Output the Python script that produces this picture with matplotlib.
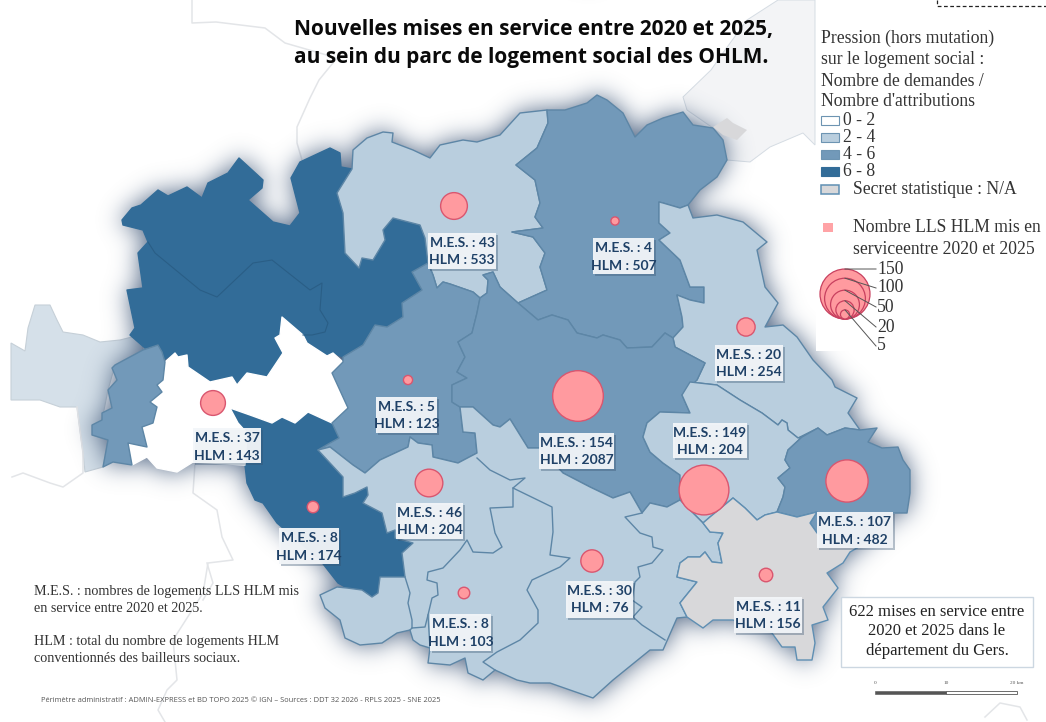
import numpy as np
import matplotlib
matplotlib.use("Agg")
import matplotlib.pyplot as plt
from matplotlib.patches import Polygon, Circle, Rectangle
from matplotlib.path import Path

# ---------- data ----------
mes = [43, 4, 20, 5, 154, 37, 149, 107, 46, 8, 30, 8, 11]
hlm = [533, 507, 254, 123, 2087, 143, 204, 482, 204, 174, 76, 103, 156]
legend_classes = ["0 - 2", "2 - 4", "4 - 6", "6 - 8"]
legend_sizes = [150, 100, 50, 20, 5]
title_lines = ["Nouvelles mises en service entre 2020 et 2025,",
               "au sein du parc de logement social des OHLM."]
legend_title = ["Pression (hors mutation)", "sur le logement social :",
                "Nombre de demandes /", "Nombre d'attributions"]
note_lines = ["M.E.S. : nombres de logements LLS HLM mis", "en service entre 2020 et 2025.",
              "HLM : total du nombre de logements HLM", "conventionnés des bailleurs sociaux."]
box_lines = ["622 mises en service entre", "2020 et 2025 dans le", "département du Gers."]
source = "Périmètre administratif : ADMIN-EXPRESS et BD TOPO 2025 © IGN – Sources : DDT 32 2026 - RPLS 2025 - SNE 2025"

# ---------- map geometry (image pixels) ----------
bubble_xy = [(454,206),(615,221),(746,327),(408,380),(578,396),(213,403),(704,490),
             (847,481),(429,483),(313,507),(592,561),(464,593),(766,575)]
label_boxes = [(428,233,496,269),(593,238,654,274),(715,345,783,381),(376,397,437,433),
               (539,433,614,469),(193,428,261,463),(673,423,747,458),(817,512,893,548),
               (396,503,463,539),(279,528,339,564),(566,581,633,618),(430,614,491,651),
               (734,597,802,633)]

dark_north = [(122,220),(132,208),(141,205),(158,190),(168,196),(187,187),(202,198),(208,183),(228,173),
 (239,158),(263,180),(262,188),(248,200),(273,222),(290,226),(300,213),(291,178),(300,162),(330,148),
 (340,153),(341,167),(352,169),(337,193),(343,213),(345,253),(359,268),(362,258),(373,260),(385,240),
 (383,230),(393,218),(420,225),(425,238),(428,263),(412,272),(422,290),(402,303),(403,317),(387,327),
 (375,325),(363,345),(343,357),(333,353),(327,356),(307,343),(303,335),(282,317),(280,335),(275,338),
 (283,353),(267,377),(247,373),(237,385),(232,377),(210,382),(188,367),(187,355),(178,357),(175,353),
 (163,360),(160,347),(145,348),(130,335),(135,328),(127,290),(143,288),(138,253),(148,242),(143,230),(123,225)]
dark_inner = [(148,242),(155,253),(200,290),(217,297),(253,263),(272,260),(310,290),(322,283),(320,310),
 (328,323),(325,332),(312,335),(303,335)]
dark_south = [(230,408),(250,415),(272,423),(282,417),(295,423),(308,412),(332,423),(339,438),(330,443),
 (318,450),(343,477),(343,497),(355,493),(367,487),(368,495),(363,503),(382,513),(387,533),(395,530),
 (395,538),(413,543),(402,553),(405,577),(380,577),(378,593),(372,597),(362,590),(347,588),(338,583),
 (320,560),(277,523),(263,503),(255,500),(247,483),(245,465),(247,433),(238,423)]
white_zone = [(175,353),(178,357),(187,355),(188,367),(210,382),(232,377),(237,385),(247,373),(267,377),
 (283,353),(275,338),(280,335),(282,317),(303,335),(307,343),(327,356),(333,353),(343,362),(332,373),
 (348,408),(332,423),(308,412),(295,423),(282,417),(272,423),(250,415),(230,408),(238,423),(247,433),
 (245,465),(193,462),(177,472),(157,468),(147,457),(132,465),(128,443),(147,447),(142,427),(153,423),
 (157,407),(150,402),(162,392),(157,385),(163,380),(165,362)]
mid_west = [(143,350),(158,345),(162,352),(165,362),(163,380),(157,385),(162,392),(150,402),(157,407),
 (153,423),(142,427),(147,447),(128,443),(132,465),(113,462),(103,467),(108,440),(92,435),(92,425),
 (102,420),(102,413),(112,408),(108,390),(117,380),(112,368),(115,365)]
light_north = [(352,169),(353,150),(367,138),(383,132),(393,133),(392,142),(413,150),(430,158),(440,145),
 (463,140),(477,142),(500,135),(520,113),(547,110),(548,123),(537,148),(516,165),(535,180),(540,203),
 (535,217),(543,228),(512,232),(533,237),(545,253),(540,267),(547,290),(518,303),(500,287),(493,272),
 (483,275),(488,280),(487,293),(480,298),(473,292),(450,284),(443,282),(437,288),(433,275),(428,263),(425,238),
 (420,225),(393,218),(383,230),(385,240),(373,260),(362,258),(359,268),(345,253),(343,213),(337,193)]
mid_north = [(547,110),(565,110),(587,103),(597,95),(607,100),(623,113),(635,137),(647,125),(663,118),
 (683,112),(693,125),(713,128),(723,140),(727,160),(717,177),(700,190),(688,205),(680,208),(663,203),
 (659,202),(659,223),(670,233),(659,240),(680,260),(690,287),(704,287),(704,303),(690,300),(677,295),
 (682,317),(683,327),(673,338),(665,333),(652,347),(627,348),(620,340),(603,335),(597,338),(577,333),
 (568,320),(552,315),(538,320),(518,303),(547,290),(540,267),(545,253),(533,237),(512,232),(543,228),
 (535,217),(540,203),(535,180),(516,165),(537,148),(548,123)]
light_ne = [(659,202),(663,203),(680,208),(688,205),(693,218),(717,215),(743,222),(767,242),(757,250),
 (765,287),(778,303),(765,327),(783,325),(797,337),(813,360),(832,380),(835,387),(857,398),(848,413),
 (860,430),(845,428),(827,435),(818,428),(798,438),(788,430),(787,423),(782,420),(778,425),(762,413),
 (740,400),(717,385),(690,382),(697,380),(705,363),(675,347),(673,338),(683,327),(682,317),(677,295),
 (690,300),(704,303),(704,287),(690,287),(680,260),(659,240),(670,233),(659,223)]
mid_centre_west = [(343,357),(363,345),(375,325),(387,327),(403,317),(402,303),(422,290),(412,272),(428,263),
 (433,275),(437,288),(443,282),(450,284),(473,292),(480,298),(477,313),(472,333),(458,342),(465,357),
 (457,372),(467,378),(452,385),(452,402),(460,407),(463,432),(475,433),(477,453),(458,463),(433,457),
 (432,445),(418,443),(410,437),(408,447),(380,460),(365,473),(353,465),(330,447),(318,450),(330,443),
 (339,438),(332,423),(348,408),(332,373),(343,362)]
mid_centre = [(480,298),(487,293),(488,280),(483,275),(493,272),(500,287),(518,303),(538,320),(552,315),
 (568,320),(577,333),(597,338),(603,335),(620,340),(627,348),(652,347),(665,333),(673,338),(675,347),
 (705,363),(697,380),(682,395),(690,413),(660,412),(647,423),(643,437),(650,452),(663,463),(680,475),
 (680,500),(667,507),(650,503),(642,513),(630,492),(613,498),(590,487),(563,473),(540,448),(528,448),
 (510,419),(500,427),(493,425),(473,407),(460,407),(452,402),(452,385),(467,378),(457,372),(465,357),
 (458,342),(472,333),(477,313)]
light_se = [(690,382),(717,385),(740,400),(762,413),(778,425),(782,420),(787,423),(788,430),(798,438),(802,437),
 (788,450),(785,460),(790,468),(778,478),(785,487),(783,497),(777,512),(765,515),(757,520),(745,508),
 (733,498),(710,517),(703,523),(680,500),(680,475),(663,463),(650,452),(643,437),(647,423),(660,412),
 (690,413),(682,395)]
mid_east = [(802,437),(818,428),(827,435),(845,428),(860,430),(877,428),(868,442),(882,448),(898,447),(903,460),
 (910,470),(910,493),(907,513),(893,513),(878,530),(857,548),(830,540),(817,533),(810,523),(817,512),
 (797,517),(777,512),(783,497),(785,487),(778,478),(790,468),(785,460),(788,450)]
grey_zone = [(703,523),(710,517),(733,498),(745,508),(757,520),(765,515),(777,512),(797,517),(817,512),(810,523),
 (817,533),(830,540),(857,548),(850,552),(843,563),(827,573),(838,588),(823,607),(828,620),(812,625),
 (815,643),(812,660),(797,660),(795,647),(782,647),(772,633),(733,620),(713,620),(703,628),(687,617),
 (680,603),(697,582),(677,577),(680,563),(688,557),(700,557),(705,552),(712,562),(722,563),(718,543),
 (723,533),(710,532)]
light_south = [(460,407),(473,407),(493,425),(500,427),(510,419),(528,448),(540,448),(563,473),(590,487),(613,498),
 (630,492),(642,513),(650,503),(667,507),(680,500),(703,523),(710,532),(723,533),(718,543),(722,563),(712,562),
 (705,552),(700,557),(688,557),(680,563),(677,577),(697,582),(680,603),(687,617),(677,618),(663,650),(650,650),
 (613,680),(593,698),(570,690),(550,683),(530,683),(517,680),(495,670),(483,680),(468,673),(465,658),(450,665),
 (428,663),(430,648),(420,645),(413,640),(410,630),(397,633),(382,643),(360,645),(345,638),(340,620),(325,608),
 (320,595),(337,587),(347,588),(362,590),(372,597),(378,593),(380,577),(405,577),(402,553),(413,543),(395,538),
 (395,530),(387,533),(382,513),(363,503),(368,495),(367,487),(355,493),(343,497),(343,477),(318,450),(330,447),
 (353,465),(365,473),(380,460),(408,447),(410,437),(418,443),(432,445),(433,457),(458,463),(477,453),(475,433),(463,432)]
south_lines = [
 [(405,577),(410,593),(408,603),(412,620),(412,628),(425,627),(428,615),(432,598),(438,595),(437,583),(427,580),
  (428,572),(443,568),(460,550),(467,540),(473,552),(493,553),(502,547),(495,533),(490,508),(513,507),(513,488),(525,478),(510,480),(490,470),(477,458)],
 [(513,488),(552,507),(553,532),(550,555),(570,558),(560,567),(532,580),(527,590),(538,610),(538,623),(520,640),(497,652),(483,662),(495,670)],
 [(642,513),(625,517),(640,533),(652,537),(653,547),(663,550),(652,563),(638,567),(640,577),(635,582),(632,600),(642,607),(633,617),(642,625),(665,640)],
 [(410,630),(412,628)], [(430,648),(428,615)],
]
neighbour_west = [(11,343),(25,351),(28,328),(35,305),(50,305),(57,320),(63,332),(83,335),(100,342),(120,340),(140,335),
 (143,350),(115,365),(108,390),(102,420),(92,435),(108,440),(103,467),(85,472),(83,453),(77,407),(60,407),(40,400),(11,400)]
neighbour_ne = [(778,0),(747,20),(725,50),(711,70),(683,97),(687,110),(713,128),(727,160),(750,162),(770,147),(803,133),(815,145),(815,0)]
grey_patch = [(713,127),(727,118),(733,123),(747,130),(737,140),(723,135)]
faint_lines = [
 [(192,0),(192,23),(216,22),(265,28),(285,43),(337,58),(319,80),(310,98),(297,127),(297,143),(302,160)],
 [(195,463),(193,493),(217,510),(222,537),(233,560),(208,563),(203,593),(173,640),(177,680),(167,690),(158,710),(165,722)],
 [(12,477),(23,473),(50,483),(63,487),(83,473),(83,453),(77,407)],
 [(985,717),(1000,703),(1020,707),(1027,720)],
 [(1025,255),(1046,262)], [(207,563),(213,583),(203,600)],
]

# ---------- colours ----------
C0, C2, C4, C6, CG = "#ffffff", "#b9cede", "#7299b9", "#326c98", "#d8d8da"
EDGE = "#5d86a6"
NAVY = "#1f4167"
LEG = 12.7

plt.rcParams["font.family"] = ["Liberation Serif", "DejaVu Sans"]
fig = plt.figure(figsize=(10.46, 7.22), dpi=100)
ax = fig.add_axes([0, 0, 1, 1])
ax.set_xlim(0, 1046); ax.set_ylim(722, 0); ax.axis("off")

# neighbours
ax.add_patch(Polygon(neighbour_west, closed=True, fc="#d5e0e9", ec="#c6d0d8", lw=.8, zorder=1))
ax.add_patch(Polygon(neighbour_ne, closed=True, fc="#f3f4f6", ec="#d5dce3", lw=.7, zorder=1))
for l in faint_lines:
    ax.plot(*zip(*l), color="#e3e5e8", lw=1.1, zorder=1)
ax.add_patch(Polygon(grey_patch, closed=True, fc=CG, ec="none", zorder=4))

# zones
zones = [(dark_north, C6), (dark_south, C6), (white_zone, C0), (mid_west, C4), (light_north, C2),
         (mid_north, C4), (light_ne, C2), (mid_centre_west, C4), (mid_centre, C4), (light_se, C2),
         (light_south, C2), (mid_east, C4), (grey_zone, CG)]

# soft halo around the department, built from the zones themselves
yy, xx = np.mgrid[0:722, 0:1046]
grid = np.column_stack([xx.ravel() + .5, yy.ravel() + .5])
mask = np.zeros(xx.size, bool)
for poly, _ in zones:
    mask |= Path(poly).contains_points(grid)
mask = mask.reshape(xx.shape).astype(float)
fy = np.fft.fftfreq(722)[:, None]; fx = np.fft.fftfreq(1046)[None, :]
sigma = 12
blur = np.fft.ifft2(np.fft.fft2(mask) * np.exp(-2 * (np.pi * sigma) ** 2 * (fx ** 2 + fy ** 2))).real
rgba = np.zeros(mask.shape + (4,))
rgba[..., :3] = np.array([0x45, 0x5c, 0x7c]) / 255
rgba[..., 3] = np.clip(blur, 0, 1) * .95
ax.imshow(rgba, extent=(0, 1046, 722, 0), zorder=2, aspect="auto", interpolation="bilinear")

for poly, col in zones:
    ec = "#5f8fb3" if col == CG else EDGE
    if col == C0:
        ec = "#ffffff"
    if col == C6:
        ec = C6
    ax.add_patch(Polygon(poly, closed=True, fc=col, ec=ec, lw=1.0, joinstyle="round", zorder=3))
ax.plot(*zip(*dark_inner), color="#2a5e86", lw=.8, zorder=4)
for l in south_lines:
    ax.plot(*zip(*l), color=EDGE, lw=1.0, zorder=4)

# proportional bubbles
K = 2.04
def radius(v):
    return K * np.sqrt(v)
for (x, y), v in zip(bubble_xy, mes):
    ax.add_patch(Circle((x, y), radius(v), fc="#ff9a9f", ec="#d9566f", lw=1.0, zorder=5))

# labels
for (x0, y0, x1, y1), m, h in zip(label_boxes, mes, hlm):
    ax.add_patch(Rectangle((x0 + 1.5, y0 + 1.5), x1 - x0, y1 - y0, fc="#33506e", ec="none", alpha=.35, zorder=6))
    ax.add_patch(Rectangle((x0, y0), x1 - x0, y1 - y0, fc="#f3f6f9", ec="none", alpha=.95, zorder=7))
    xc = (x0 + x1) / 2
    ax.text(xc, y0 + 10, f"M.E.S. : {m}", ha="center", va="center", family="Lato", weight="bold",
            fontsize=10, color=NAVY, zorder=8)
    ax.text(xc, y0 + 27.5, f"HLM : {h}", ha="center", va="center", family="Lato", weight="bold",
            fontsize=10, color=NAVY, zorder=8)

# title
for y, t in zip((29, 57), title_lines):
    ax.text(294, y, t, ha="left", va="center", family="Open Sans", weight="bold", fontsize=15, color="#0a0a0a", zorder=9)

# legend panel
ax.add_patch(Rectangle((816, 0), 230, 351, fc="white", ec="none", zorder=6))
ax.plot([937, 937, 1046], [0, 6, 6], color="#222222", lw=.9, ls=(0, (3, 2)), zorder=7)
TXT = "#333333"
for y, t in zip((38, 59, 81, 102), legend_title):
    ax.text(821, y, t, ha="left", va="center", fontsize=LEG, color=TXT, zorder=9)
for y, t, c in zip((120.5, 137.5, 154.5, 171.5), legend_classes, (C0, C2, C4, C6)):
    ax.add_patch(Rectangle((820.5, y - 4.5), 18, 9, fc=c, ec="#6d94b2" if c != C6 else C6, lw=.8, zorder=7))
    ax.text(843, y, t, ha="left", va="center", fontsize=LEG, color=TXT, zorder=9)
ax.add_patch(Rectangle((820.5, 184.5), 18, 9, fc=CG, ec="#5f8fb3", lw=1.1, zorder=7))
ax.text(853, 189, "Secret statistique : N/A", ha="left", va="center", fontsize=LEG, color=TXT, zorder=9)
ax.add_patch(Rectangle((823, 223), 10, 9, fc="#ffa3a6", ec="none", zorder=7))
ax.text(853, 228, "Nombre LLS HLM mis en", ha="left", va="center", fontsize=LEG, color=TXT, zorder=9)
ax.text(853, 249, "serviceentre 2020 et 2025", ha="left", va="center", fontsize=LEG, color=TXT, zorder=9)

# size legend
cx, base = 845, 319
label_y = (269, 288, 307, 327, 346)
for v, ly in zip(legend_sizes, label_y):
    r = radius(v)
    ax.add_patch(Circle((cx, base - r), r, fc="#ff9a9f", ec="#c8405f", lw=.9, zorder=7))
for v, ly in zip(legend_sizes, label_y):
    r = radius(v)
    ax.plot([cx, 876], [base - 2 * r, ly], color="#555555", lw=.7, zorder=8)
    ax.text(877, ly, str(v), ha="left", va="center", fontsize=LEG, color=TXT, zorder=9)

# notes
for y, t in zip((591, 608, 641, 658), note_lines):
    ax.text(34, y, t, ha="left", va="center", fontsize=10.2, color="#333333", zorder=9)
ax.text(41, 700, source, ha="left", va="center", family="Open Sans", fontsize=5.4, color="#555555", zorder=9)

# summary box
ax.add_patch(Rectangle((841, 597), 192, 70, fc="white", ec="#ccd7e1", lw=1.0, zorder=6))
for y, t in zip((612, 631, 651), box_lines):
    ax.text(937, y, t, ha="center", va="center", fontsize=12, color="#222222", zorder=9)

# scale bar
ax.add_patch(Rectangle((875, 690.5), 71, 3, fc="#555555", ec="#555555", lw=.4, zorder=7))
ax.add_patch(Rectangle((946, 690.5), 71, 3, fc="white", ec="#555555", lw=.6, zorder=7))
for x, t in zip((875, 946, 1017), ("0", "10", "20 km")):
    ax.text(x, 683, t, ha="center", va="center", fontsize=3.8, color="#555555", zorder=9)

fig.savefig("out.png", dpi=100)
